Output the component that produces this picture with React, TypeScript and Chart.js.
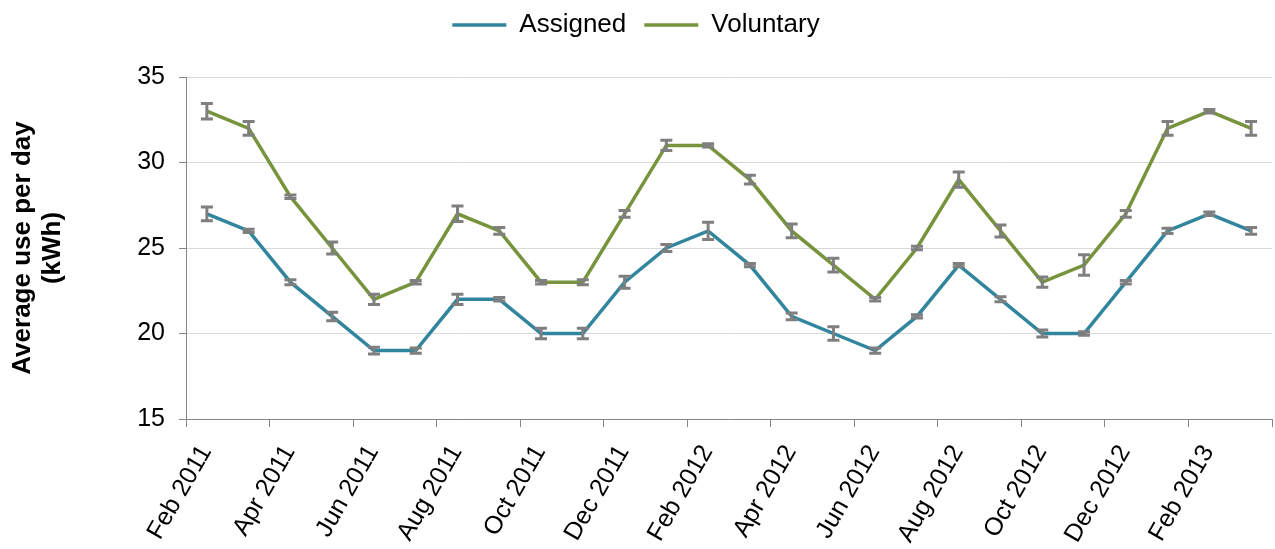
import React, { useEffect, useRef } from 'react';
import { Chart, registerables } from 'chart.js';

Chart.register(...registerables);

const months = [
  'Feb 2011', 'Mar 2011', 'Apr 2011', 'May 2011', 'Jun 2011', 'Jul 2011',
  'Aug 2011', 'Sep 2011', 'Oct 2011', 'Nov 2011', 'Dec 2011', 'Jan 2012',
  'Feb 2012', 'Mar 2012', 'Apr 2012', 'May 2012', 'Jun 2012', 'Jul 2012',
  'Aug 2012', 'Sep 2012', 'Oct 2012', 'Nov 2012', 'Dec 2012', 'Jan 2013',
  'Feb 2013', 'Mar 2013',
];

const assigned = [27, 26, 23, 21, 19, 19, 22, 22, 20, 20, 23, 25, 26, 24, 21, 20, 19, 21, 24, 22, 20, 20, 23, 26, 27, 26];
const voluntary = [33, 32, 28, 25, 22, 23, 27, 26, 23, 23, 27, 31, 31, 29, 26, 24, 22, 25, 29, 26, 23, 24, 27, 32, 33, 32];

const assignedErr = [0.4, 0.1, 0.15, 0.25, 0.2, 0.15, 0.3, 0.1, 0.3, 0.3, 0.35, 0.2, 0.5, 0.1, 0.2, 0.4, 0.15, 0.1, 0.1, 0.15, 0.2, 0.1, 0.1, 0.15, 0.1, 0.2];
const voluntaryErr = [0.45, 0.4, 0.1, 0.35, 0.3, 0.1, 0.45, 0.2, 0.1, 0.15, 0.2, 0.3, 0.1, 0.25, 0.4, 0.4, 0.1, 0.1, 0.45, 0.35, 0.3, 0.6, 0.2, 0.4, 0.1, 0.4];

const yMin = 15;
const yMax = 35;
const yStep = 5;

const seriesNames = ['Assigned', 'Voluntary'];
const seriesColors = ['#31859C', '#77933C'];
const errorSets = [assignedErr, voluntaryErr];

const FONT = '"Liberation Sans", Arial, sans-serif';
const AXIS_GRAY = '#868686';

const errorBarPlugin = {
  id: 'errorBars',
  afterDatasetsDraw(chart: any) {
    const { ctx } = chart;
    const x = chart.scales.x;
    const y = chart.scales.y;
    ctx.save();
    ctx.strokeStyle = '#7f7f7f';
    ctx.lineWidth = 3;
    chart.data.datasets.forEach((ds: any, di: number) => {
      const errs = errorSets[di];
      ds.data.forEach((v: number, i: number) => {
        const e = errs[i];
        const px = x.getPixelForValue(i);
        const top = y.getPixelForValue(v + e);
        const bot = y.getPixelForValue(v - e);
        ctx.beginPath();
        ctx.moveTo(px, top);
        ctx.lineTo(px, bot);
        ctx.moveTo(px - 6, top);
        ctx.lineTo(px + 6, top);
        ctx.moveTo(px - 6, bot);
        ctx.lineTo(px + 6, bot);
        ctx.stroke();
      });
    });
    ctx.restore();
  },
};

const tickMarkColor = (c: any) =>
  c.index === undefined || c.index % 2 === 0 ? AXIS_GRAY : 'rgba(0,0,0,0)';

export default function App() {
  const ref = useRef<HTMLCanvasElement | null>(null);

  useEffect(() => {
    document.body.style.margin = '0';
    const canvas = ref.current;
    if (!canvas) return;
    const chart = new Chart(canvas, {
      type: 'line',
      data: {
        labels: months,
        datasets: [assigned, voluntary].map((d, i) => ({
          label: seriesNames[i],
          data: d,
          borderColor: seriesColors[i],
          backgroundColor: seriesColors[i],
          borderWidth: 3.5,
          pointRadius: 0,
          pointHoverRadius: 0,
          pointBorderWidth: 3.5,
          tension: 0,
          fill: false,
        })),
      },
      options: {
        responsive: false,
        animation: false,
        layout: { padding: { top: -6, right: 3, left: 0, bottom: 0 } },
        plugins: {
          legend: {
            position: 'top',
            weight: 1000,
            labels: {
              usePointStyle: true,
              pointStyle: 'line',
              pointStyleWidth: 54,
              font: { size: 26, family: FONT },
              color: '#000',
              padding: 18,
            },
          },
          title: {
            display: true,
            text: '',
            weight: 500,
            font: { size: 10, family: FONT, lineHeight: 1.2 },
            padding: { top: 0, bottom: 17 },
          },
          tooltip: { enabled: false },
        },
        scales: {
          x: {
            offset: true,
            grid: {
              offset: true,
              drawOnChartArea: false,
              color: tickMarkColor,
              tickColor: tickMarkColor,
              tickLength: 8,
            },
            border: { color: AXIS_GRAY, width: 1 },
            ticks: {
              autoSkip: false,
              minRotation: 60,
              maxRotation: 60,
              labelOffset: -1,
              padding: 13,
              color: '#000',
              font: { size: 25, family: FONT },
              callback: (_v: any, i: number) => (i % 2 === 0 ? months[i] : ''),
            },
            afterFit(s: any) {
              s.height = 130;
              s.paddingLeft = 0;
              s.paddingRight = 0;
            },
          },
          y: {
            min: yMin,
            max: yMax,
            ticks: {
              stepSize: yStep,
              color: '#000',
              padding: 14,
              font: { size: 25, family: FONT },
            },
            grid: {
              color: '#d9d9d9',
              tickColor: AXIS_GRAY,
              tickLength: 7,
            },
            border: { color: AXIS_GRAY, width: 1 },
            title: {
              display: true,
              text: ['Average use per day', '(kWh)'],
              color: '#000',
              font: { size: 26, weight: 'bold', family: FONT, lineHeight: 1.15 },
              padding: { top: 8, bottom: 0 },
            },
            afterFit(s: any) {
              s.width = 186;
            },
          },
        },
      },
      plugins: [errorBarPlugin],
    } as any);
    return () => chart.destroy();
  }, []);

  return (
    <div style={{ width: 1275, height: 549 }}>
      <canvas ref={ref} width={1275} height={549} style={{ display: 'block' }} />
    </div>
  );
}
